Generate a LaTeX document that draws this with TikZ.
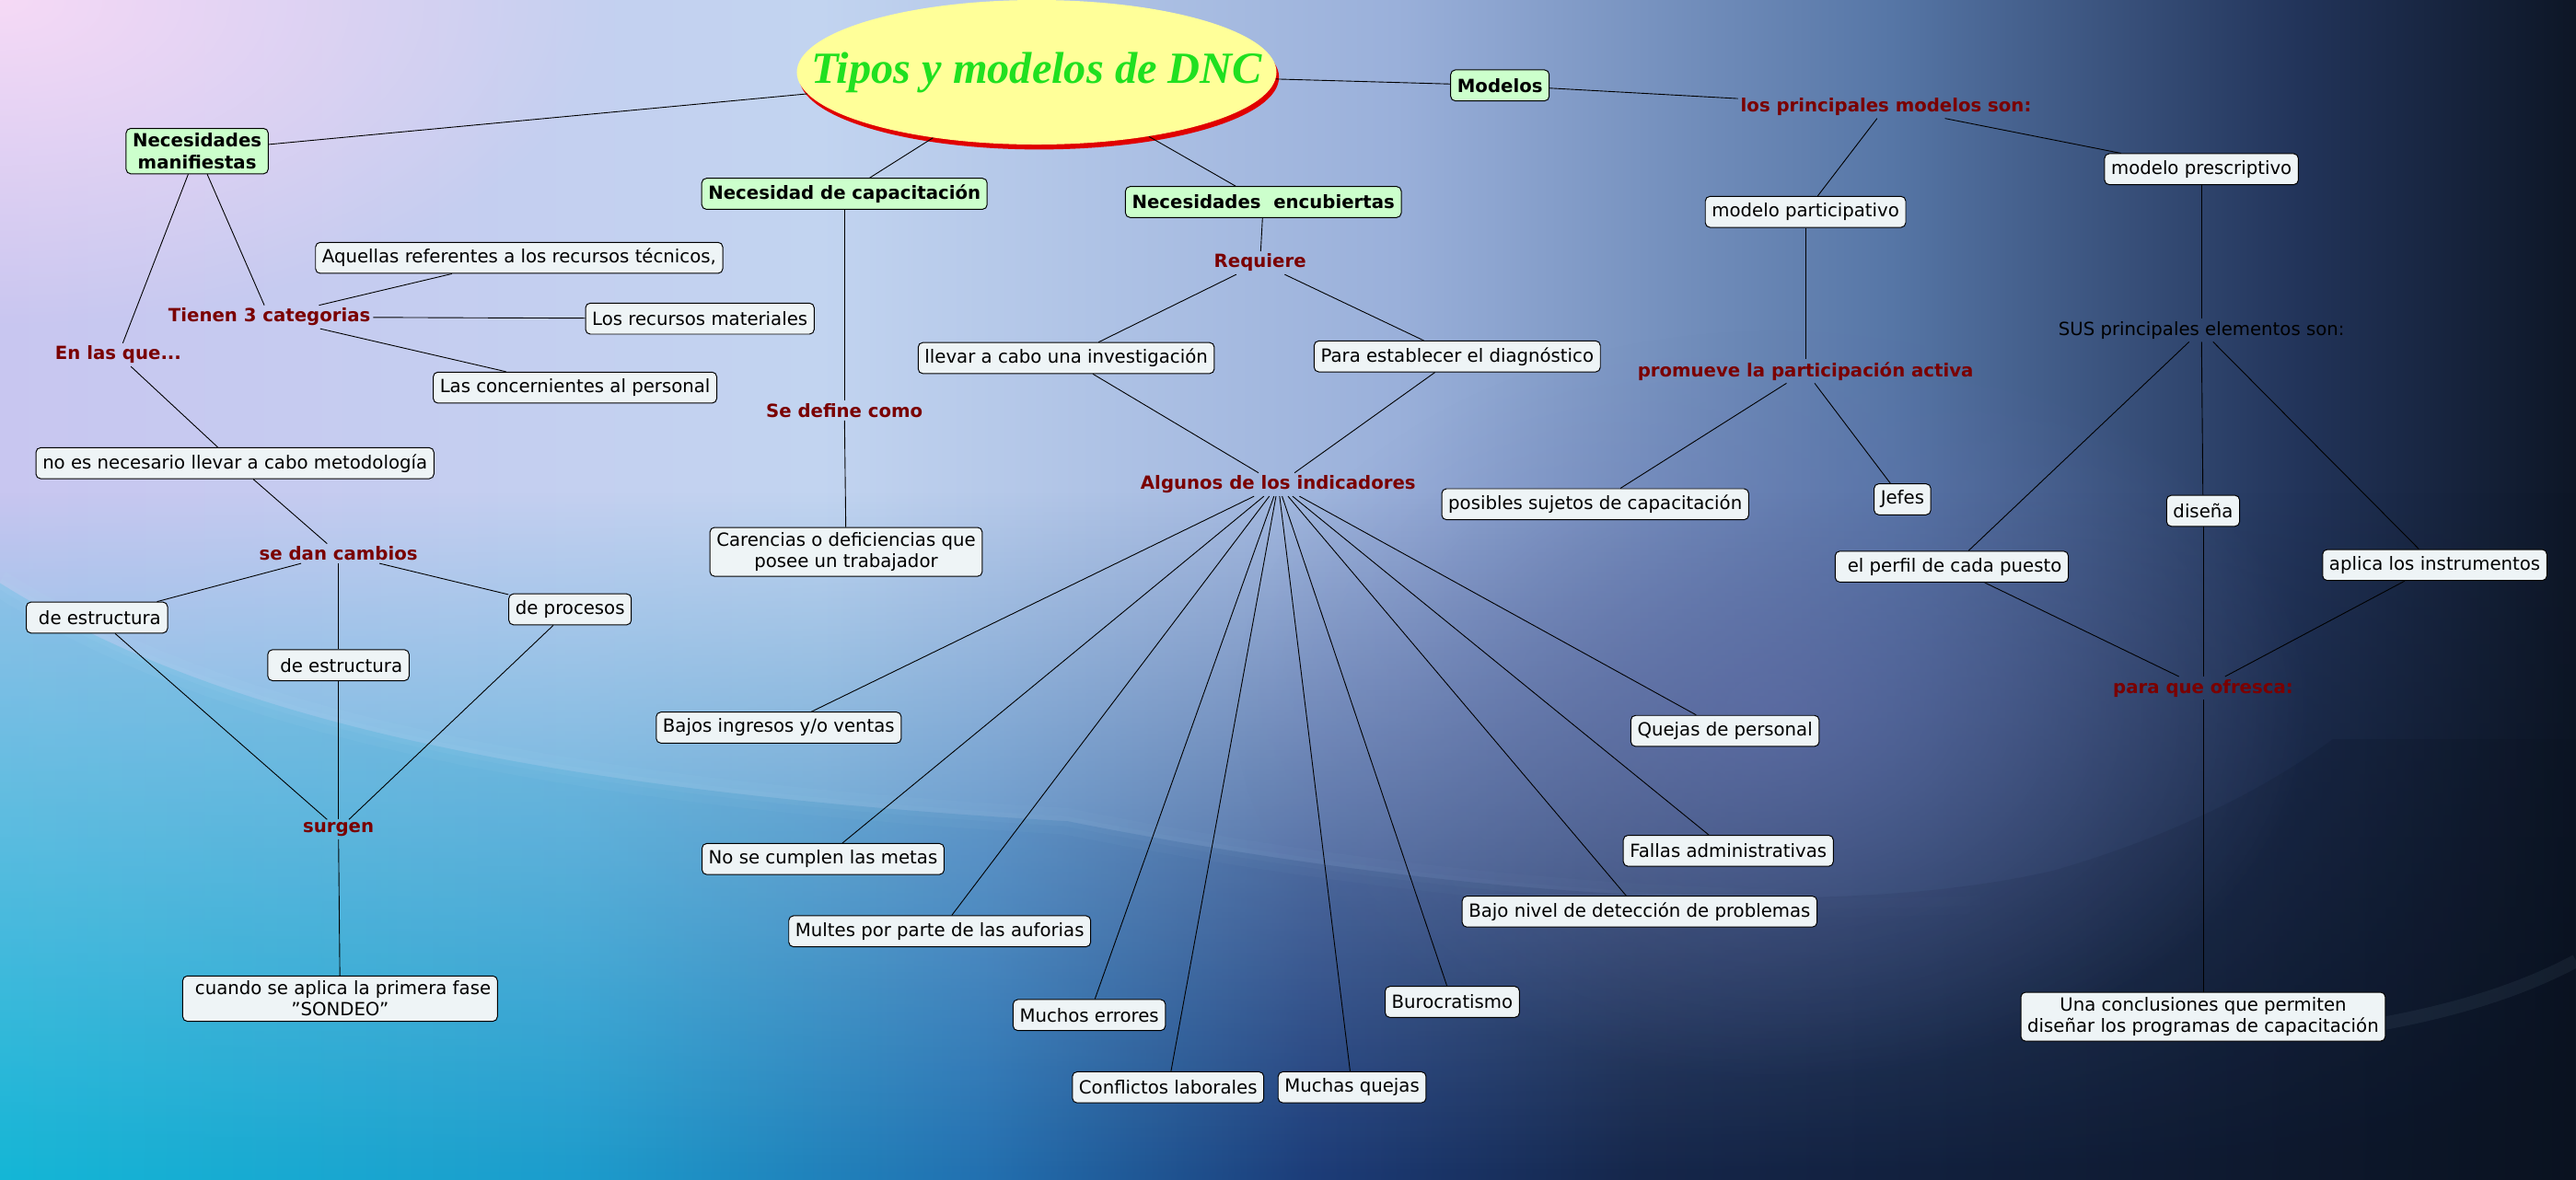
\documentclass[tikz,border=0pt]{standalone}
\usepackage{fontspec}
\setmainfont{DejaVu Sans}
\newfontfamily\titlefont{Liberation Serif}
\usetikzlibrary{shapes.geometric,shadows,fadings}
\definecolor{boxfill}{HTML}{EEF4F6}
\definecolor{topicfill}{HTML}{CCFFCC}
\definecolor{linkred}{HTML}{7A0000}
\definecolor{titlefill}{HTML}{FFFF99}
\definecolor{titleink}{HTML}{20E020}
\definecolor{shadowred}{HTML}{E00000}
% background colours
\definecolor{skyA}{HTML}{C8C6F0}
\definecolor{skyB}{HTML}{C2D4F0}
\definecolor{skyC}{HTML}{9AB0DA}
\definecolor{skyD}{HTML}{5676A6}
\definecolor{skyE}{HTML}{22345A}
\definecolor{skyF}{HTML}{0D1626}
\definecolor{seaA}{HTML}{14B6D6}
\definecolor{seaB}{HTML}{1C9CCC}
\definecolor{seaC}{HTML}{2270B0}
\definecolor{seaD}{HTML}{1C3C78}
\definecolor{seaE}{HTML}{15264A}
\definecolor{seaF}{HTML}{0A1220}
\definecolor{glowpink}{HTML}{F6DAF6}
\definecolor{glowviolet}{HTML}{6670B0}
\definecolor{wavelight}{HTML}{B8E4F8}
\pgfdeclarehorizontalshading{skyshade}{100bp}{color(0bp)=(skyA); color(25bp)=(skyA);
  color(40.9bp)=(skyB); color(52.1bp)=(skyC); color(61.7bp)=(skyD); color(69.6bp)=(skyE);
  color(75bp)=(skyF); color(100bp)=(skyF)}
\pgfdeclarehorizontalshading{seashade}{100bp}{color(0bp)=(seaA); color(25bp)=(seaA);
  color(36.2bp)=(seaB); color(44.1bp)=(seaC); color(50.5bp)=(seaD); color(56.9bp)=(seaE);
  color(75bp)=(seaF); color(100bp)=(seaF)}
\tikzfading[name=fadebottom, top color=transparent!100, middle color=transparent!25, bottom color=transparent!0]
\tikzfading[name=softglow, inner color=transparent!0, outer color=transparent!100]
\tikzfading[name=fadeeast, left color=transparent!0, right color=transparent!100]

\tikzset{
  conceptbox/.style={draw=black, fill=boxfill, rounded corners=2.8pt, line width=0.55pt,
    inner xsep=4pt, inner ysep=3pt, minimum height=0.66cm, align=center,
    font=\fontsize{11}{13}\selectfont},
  topicbox/.style={conceptbox, fill=topicfill, font=\fontsize{11}{13}\selectfont\bfseries},
  linkword/.style={text=linkred, inner sep=1.5pt, font=\fontsize{11}{13}\selectfont\bfseries},
  plainword/.style={text=black, inner sep=1.5pt, font=\fontsize{11}{13}\selectfont},
  maintitle/.style={ellipse, fill=titlefill, minimum width=10.22cm, minimum height=3.08cm,
    inner sep=0pt, text=titleink, font=\titlefont\fontsize{27}{30}\selectfont\bfseries\itshape,
    drop shadow={fill=shadowred, opacity=1, shadow xshift=1.5pt, shadow yshift=-3pt}},
}

\begin{document}
\begin{tikzpicture}[x=0.035cm, y=-0.035cm, line width=0.5pt]
\useasboundingbox (0,0) rectangle (1568,718);
% background
\shade[shading=skyshade] (0,0) rectangle (1568,718);
\fill[glowpink, path fading=softglow] (0,0) ellipse [x radius=13cm, y radius=7cm];
\shade[shading=seashade, path fading=fadebottom] (0,300) rectangle (1568,718);
\begin{scope}
  \clip (0,355) .. controls (120,430) and (300,480) .. (650,500) .. controls (850,540) and (1100,565) .. (1250,530)
    .. controls (1320,510) and (1380,480) .. (1420,450) -- (1568,450) -- (1568,718) -- (0,718) -- cycle;
  \shade[shading=seashade, opacity=0.22] (0,300) rectangle (1568,718);
\end{scope}
\fill[glowviolet, opacity=0.55, path fading=softglow] (1080,430) ellipse [x radius=11.5cm, y radius=8cm];
\draw[wavelight, opacity=0.07, line width=16pt, path fading=fadeeast]
  (0,355) .. controls (120,430) and (300,480) .. (650,500) .. controls (850,540) and (1100,565) .. (1300,540);
\draw[wavelight, opacity=0.08, line width=6pt, path fading=fadeeast]
  (0,355) .. controls (120,430) and (300,480) .. (650,500) .. controls (850,540) and (1100,565) .. (1300,540);
\draw[wavelight, opacity=0.06, line width=8pt] (1440,625) .. controls (1500,615) and (1540,600) .. (1568,585);

% central idea and main branches
\node[maintitle] (title) at (631,44) {\makebox[0pt]{Tipos y modelos de DNC}};
\node[topicbox] (nman) at (120,92) {Necesidades\\manifiestas};
\node[topicbox] (ncap) at (514,118) {Necesidad de capacitación};
\node[topicbox] (nenc) at (769,123) {Necesidades\ \ encubiertas};
\node[topicbox] (modelos) at (913,52) {Modelos};

% linking words
\node[linkword] (tienen) at (164,193) {Tienen 3 categorias};
\node[linkword] (enlas) at (72,216) {En las que...};
\node[linkword] (sedan) at (206,337) {se dan cambios};
\node[linkword] (surgen) at (206,505) {surgen};
\node[linkword] (sedefine) at (514,250) {Se define como};
\node[linkword] (requiere) at (767,160) {Requiere};
\node[linkword] (algunos) at (778,295) {Algunos de los indicadores};
\node[linkword] (princ) at (1148,65) {los principales modelos son:};
\node[linkword] (promueve) at (1099,226) {promueve la participación activa};
\node[linkword] (paraque) at (1341,419) {para que ofresca:};
\node[plainword] (sus) at (1340,201) {SUS principales elementos son:};

% concepts, left side
\node[conceptbox] (tecnicos) at (316,157) {Aquellas referentes a los recursos técnicos,};
\node[conceptbox] (materiales) at (426,194) {Los recursos materiales};
\node[conceptbox] (personal) at (350,236) {Las concernientes al personal};
\node[conceptbox] (noesnec) at (143,282) {no es necesario llevar a cabo metodología};
\node[conceptbox] (estrizq) at (59,376) {\ de estructura};
\node[conceptbox] (estrmed) at (206,405) {\ de estructura};
\node[conceptbox] (procesos) at (347,371) {de procesos};
\node[conceptbox] (sondeo) at (207,608) {\ cuando se aplica la primera fase\\"SONDEO"};
\node[conceptbox] (carencias) at (515,336) {Carencias o deficiencias que\\posee un trabajador};

% concepts, centre
\node[conceptbox] (investig) at (649,218) {llevar a cabo una investigación};
\node[conceptbox] (diagn) at (887,217) {Para establecer el diagnóstico};
\node[conceptbox] (bajos) at (474,443) {Bajos ingresos y/o ventas};
\node[conceptbox] (metas) at (501,523) {No se cumplen las metas};
\node[conceptbox] (multes) at (572,567) {Multes por parte de las auforias};
\node[conceptbox] (errores) at (663,618) {Muchos errores};
\node[conceptbox] (conflictos) at (711,662) {Conflictos laborales};
\node[conceptbox] (quejas) at (823,662) {Muchas quejas};
\node[conceptbox] (buro) at (884,610) {Burocratismo};
\node[conceptbox] (bajonivel) at (998,555) {Bajo nivel de detección de problemas};
\node[conceptbox] (fallas) at (1052,518) {Fallas administrativas};
\node[conceptbox] (quejasp) at (1050,445) {Quejas de personal};

% concepts, right side
\node[conceptbox] (sujetos) at (971,307) {posibles sujetos de capacitación};
\node[conceptbox] (jefes) at (1158,304) {Jefes};
\node[conceptbox] (mpart) at (1099,129) {modelo participativo};
\node[conceptbox] (mpres) at (1340,103) {modelo prescriptivo};
\node[conceptbox] (disena) at (1341,311) {diseña};
\node[conceptbox] (perfil) at (1188,345) {\ el perfil de cada puesto};
\node[conceptbox] (aplica) at (1482,344) {aplica los instrumentos};
\node[conceptbox] (conclus) at (1341,619) {Una conclusiones que permiten\\diseñar los programas de capacitación};

% connectors
\foreach \a/\b in {title/nman, title/ncap, title/nenc, title/modelos,
    nman/tienen, nman/enlas, tienen/tecnicos, tienen/materiales, tienen/personal,
    enlas/noesnec, noesnec/sedan, sedan/estrizq, sedan/estrmed, sedan/procesos,
    estrizq/surgen, estrmed/surgen, procesos/surgen, surgen/sondeo,
    ncap/sedefine, sedefine/carencias,
    nenc/requiere, requiere/investig, requiere/diagn, investig/algunos, diagn/algunos,
    modelos/princ, princ/mpart, princ/mpres, mpart/promueve, promueve/sujetos, promueve/jefes,
    mpres/sus, sus/perfil, sus/disena, sus/aplica,
    perfil/paraque, disena/paraque, aplica/paraque, paraque/conclus}
  \draw (\a) -- (\b);
\foreach \n in {bajos,metas,multes,errores,conflictos,quejas,buro,bajonivel,fallas,quejasp}
  \draw (algunos) -- (\n);
\end{tikzpicture}
\end{document}
